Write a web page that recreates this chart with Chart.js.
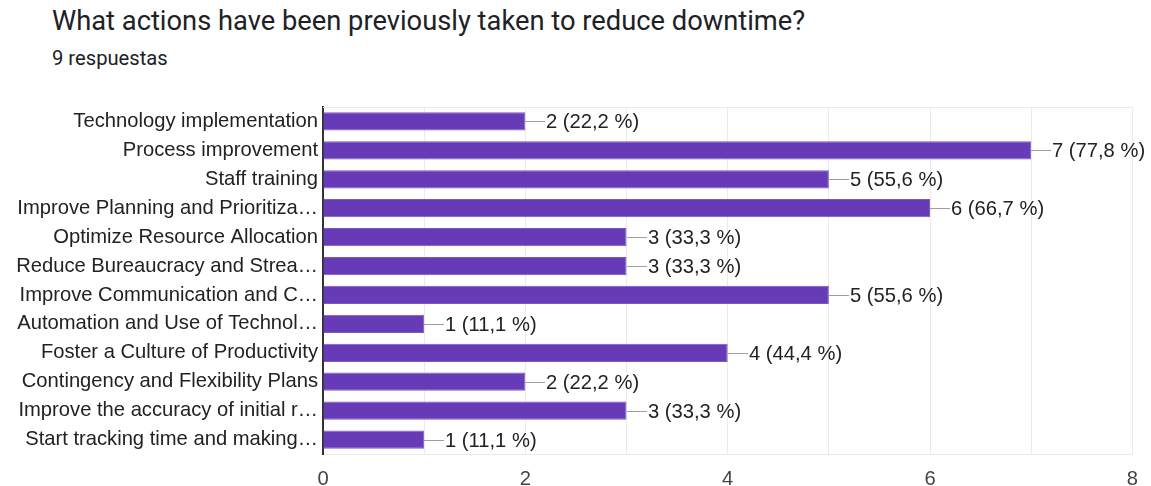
<!DOCTYPE html>
<html>
<head>
<meta charset="utf-8">
<script src="https://cdn.jsdelivr.net/npm/chart.js@4"></script>
<style>
  html, body { margin: 0; padding: 0; background: #fff; }
  #wrap { position: relative; width: 1151px; height: 486px; }
  #title { position: absolute; left: 52px; top: 5px; font: 400 27.3px Roboto, sans-serif; color: #202124; white-space: nowrap; }
  #sub { position: absolute; left: 52px; top: 46px; font: 400 20.2px Roboto, sans-serif; color: #202124; white-space: nowrap; }
  canvas { position: absolute; left: 0; top: 0; }
</style>
</head>
<body>
<div id="wrap">
  <div id="title">What actions have been previously taken to reduce downtime?</div>
  <div id="sub">9 respuestas</div>
  <canvas id="c" width="1151" height="486"></canvas>
</div>
<script>
// Survey answers: one bar per action, responses counted out of 9
const categories = [
  'Technology implementation',
  'Process improvement',
  'Staff training',
  'Improve Planning and Prioritiza…',
  'Optimize Resource Allocation',
  'Reduce Bureaucracy and Strea…',
  'Improve Communication and C…',
  'Automation and Use of Technol…',
  'Foster a Culture of Productivity',
  'Contingency and Flexibility Plans',
  'Improve the accuracy of initial r…',
  'Start tracking time and making…'
];
const counts = [2, 7, 5, 6, 3, 3, 5, 1, 4, 2, 3, 1];
const percentLabels = ['22,2', '77,8', '55,6', '66,7', '33,3', '33,3', '55,6', '11,1', '44,4', '22,2', '33,3', '11,1'];
const xTicks = [0, 2, 4, 6, 8];

const FONT_FAMILY = '"Liberation Sans", Arial, sans-serif';
const FONT_SIZE = 20.2;

// Frame around the plot area plus leader-line value labels at each bar end
const valueLabels = {
  id: 'valueLabels',
  beforeDatasetsDraw(chart) {
    const { ctx, chartArea: a } = chart;
    ctx.save();
    ctx.strokeStyle = '#ebebeb';
    ctx.lineWidth = 1;
    ctx.beginPath();
    ctx.moveTo(a.left, a.top + 0.5);
    ctx.lineTo(a.right, a.top + 0.5);
    ctx.stroke();
    ctx.restore();
  },
  afterDatasetsDraw(chart) {
    const { ctx } = chart;
    const meta = chart.getDatasetMeta(0);
    ctx.save();
    ctx.font = FONT_SIZE + 'px ' + FONT_FAMILY;
    ctx.textBaseline = 'middle';
    ctx.textAlign = 'left';
    meta.data.forEach((bar, i) => {
      const x = Math.round(bar.x);
      const y = Math.round(bar.y) + 0.5;
      ctx.strokeStyle = '#9e9e9e';
      ctx.lineWidth = 1;
      ctx.beginPath();
      ctx.moveTo(x, y);
      ctx.lineTo(x + 20, y);
      ctx.stroke();
      ctx.fillStyle = '#222222';
      ctx.fillText(counts[i] + ' (' + percentLabels[i] + ' %)', x + 21, y + 1);
    });
    ctx.restore();
  }
};

new Chart(document.getElementById('c'), {
  type: 'bar',
  data: {
    labels: categories,
    datasets: [{
      data: counts,
      backgroundColor: '#673ab7',
      borderColor: '#7e57c2',
      borderWidth: 1,
      barPercentage: 0.63,
      categoryPercentage: 1.0
    }]
  },
  options: {
    indexAxis: 'y',
    responsive: false,
    animation: false,
    devicePixelRatio: 1,
    layout: { padding: { top: 107, right: 17, left: 0, bottom: 0 } },
    plugins: {
      legend: { display: false },
      tooltip: { enabled: false }
    },
    scales: {
      x: {
        min: 0,
        max: 8,
        afterFit(scale) { scale.height = 32; },
        afterBuildTicks(scale) {
          const t = [];
          for (let v = 0; v <= 8; v++) t.push({ value: v });
          scale.ticks = t;
        },
        ticks: {
          padding: 13,
          color: '#444444',
          font: { family: FONT_FAMILY, size: FONT_SIZE },
          callback: (v) => (xTicks.includes(v) ? String(v) : '')
        },
        grid: { color: '#ebebeb', lineWidth: 1, drawTicks: false },
        border: { color: '#ebebeb', width: 1 }
      },
      y: {
        afterFit(scale) { scale.width = 323; },
        ticks: {
          padding: 5,
          color: '#222222',
          autoSkip: false,
          font: { family: FONT_FAMILY, size: FONT_SIZE }
        },
        grid: { display: false, drawTicks: false },
        border: { color: '#333333', width: 2 }
      }
    }
  },
  plugins: [valueLabels]
});
</script>
</body>
</html>
